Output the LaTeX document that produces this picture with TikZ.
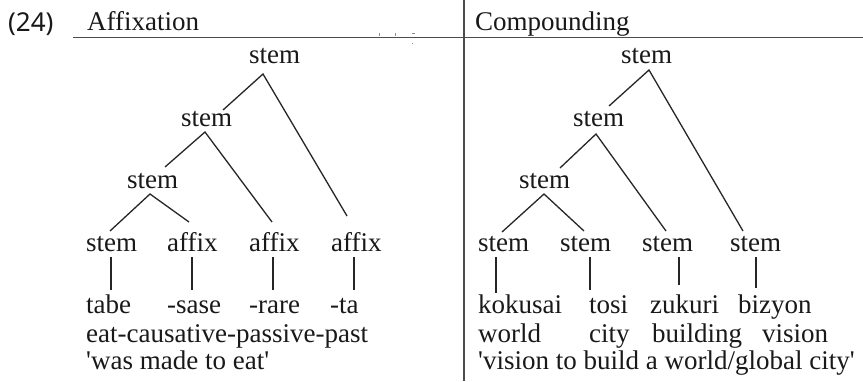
\documentclass[tikz,border=0pt]{standalone}
\usepackage{fontspec}
\setmainfont{Liberation Serif}
\newfontfamily\exnumfont{Noto Sans}
\begin{document}
\begin{tikzpicture}[x=1pt,y=-1pt,
  lbl/.style={anchor=base west,inner sep=0pt,text=black!90,font=\fontsize{27}{30}\selectfont},
  edge/.style={draw=black!85,line width=1.3pt},
  rule/.style={draw=black!70,line width=1.4pt}]
\useasboundingbox[fill=white] (0,0) rectangle (863,381);

% example number and column headings
\node[lbl,font=\exnumfont\fontsize{26}{30}\selectfont] (num) at (8,31) {(24)};
\node[lbl] (hA) at (87,30) {Affixation};
\node[lbl] (hC) at (475,30) {Compounding};
\coordinate (ruleL) at (73,37.5);
\coordinate (ruleR) at (863,37.5);
\coordinate (colT) at (464,0);
\coordinate (colB) at (464,381);
\draw[rule] (ruleL) -- (ruleR);
\draw[rule] (colT) -- (colB);
% stray marks under the heading
\draw[black!45,line width=0.6pt] (379,33) -- (379,36) (395,33) -- (395,36) (412,33) -- (415,33) (412,43) -- (413,43);

% ---------- Affixation tree ----------
\node[lbl] (L0) at (249,63) {stem};
\node[lbl] (L1) at (181,126) {stem};
\node[lbl] (L2) at (127,188) {stem};
\node[lbl] (Ls) at (86,251) {stem};
\node[lbl] (La1) at (167,251) {affix};
\node[lbl] (La2) at (249,251) {affix};
\node[lbl] (La3) at (331,251) {affix};
\node[lbl] (Lw1) at (86,313) {tabe};
\node[lbl] (Lw2) at (167,313) {-sase};
\node[lbl] (Lw3) at (249,313) {-rare};
\node[lbl] (Lw4) at (330,313) {-ta};
\node[lbl] (Lgl) at (86,342) {eat-causative-passive-past};
\node[lbl] (Ltr) at (86,369) {\textquotesingle was made to eat\textquotesingle};

\draw[edge] ([shift={(42,-16)}]L1.base west) -- ([shift={(14,11)}]L0.base west) -- ([shift={(16,-35)}]La3.base west);
\draw[edge] ([shift={(38,-21)}]L2.base west) -- ([shift={(24,6)}]L1.base west) -- ([shift={(23,-29)}]La2.base west);
\draw[edge] ([shift={(24,-20)}]Ls.base west) -- ([shift={(23,6)}]L2.base west) -- ([shift={(22,-29)}]La1.base west);
\draw[edge] ([shift={(25,6)}]Ls.base west) -- ([shift={(25,-23)}]Lw1.base west);
\draw[edge] ([shift={(25,6)}]La1.base west) -- ([shift={(25,-23)}]Lw2.base west);
\draw[edge] ([shift={(24,6)}]La2.base west) -- ([shift={(24,-23)}]Lw3.base west);
\draw[edge] ([shift={(23,6)}]La3.base west) -- ([shift={(24,-23)}]Lw4.base west);

% ---------- Compounding tree ----------
\node[lbl] (R0) at (621,63) {stem};
\node[lbl] (R1) at (573,126) {stem};
\node[lbl] (R2) at (519,188) {stem};
\node[lbl] (Rb1) at (478,251) {stem};
\node[lbl] (Rb2) at (560,251) {stem};
\node[lbl] (Rb3) at (642,251) {stem};
\node[lbl] (Rb4) at (730,251) {stem};
\node[lbl] (Rw1) at (478,313) {kokusai};
\node[lbl] (Rw2) at (589,313) {tosi};
\node[lbl] (Rw3) at (650,313) {zukuri};
\node[lbl] (Rw4) at (738,313) {bizyon};
\node[lbl] (Rg1) at (478,342) {world};
\node[lbl] (Rg2) at (589,342) {city};
\node[lbl] (Rg3) at (652,342) {building};
\node[lbl] (Rg4) at (762,342) {vision};
\node[lbl] (Rtr) at (478,369) {\textquotesingle vision to build a world/global city\textquotesingle};

\draw[edge] ([shift={(36,-20)}]R1.base west) -- ([shift={(28,7)}]R0.base west) -- ([shift={(13,-20)}]Rb4.base west);
\draw[edge] ([shift={(41,-20)}]R2.base west) -- ([shift={(23,8)}]R1.base west) -- ([shift={(24,-20)}]Rb3.base west);
\draw[edge] ([shift={(24,-19)}]Rb1.base west) -- ([shift={(25,6)}]R2.base west) -- ([shift={(24,-20)}]Rb2.base west);
\draw[edge] ([shift={(18,6)}]Rb1.base west) -- ([shift={(18,-20)}]Rw1.base west);
\draw[edge] ([shift={(30,6)}]Rb2.base west) -- ([shift={(1,-23)}]Rw2.base west);
\draw[edge] ([shift={(37,6)}]Rb3.base west) -- ([shift={(29,-28)}]Rw3.base west);
\draw[edge] ([shift={(26,6)}]Rb4.base west) -- ([shift={(18,-25)}]Rw4.base west);
\end{tikzpicture}
\end{document}
